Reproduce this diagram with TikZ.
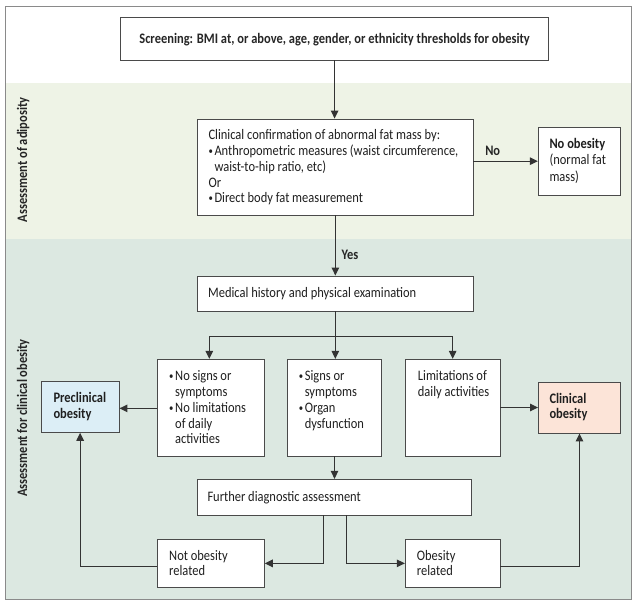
\documentclass[tikz,border=0pt]{standalone}
\usepackage{fontspec}
\setmainfont{Carlito}[FakeStretch=0.86]
\usepackage{graphicx}
\usetikzlibrary{arrows.meta,calc}
\definecolor{bandA}{HTML}{EEF3E6}
\definecolor{bandB}{HTML}{DCE8E1}
\definecolor{preF}{HTML}{DCEEF6}
\definecolor{clinF}{HTML}{FCE4D8}
\definecolor{lineC}{HTML}{333333}
\definecolor{boxC}{HTML}{4A4A4A}
\definecolor{frameC}{HTML}{8A8A8A}
\newcommand\fs{\fontsize{14.5}{15.8}\selectfont}
\newcommand\bl{\makebox[6pt][l]{\raisebox{1pt}{\scalebox{0.7}{\textbullet}}}}
\newcommand\hg{\hspace*{6pt}}
\tikzset{
  boxs/.style={draw=boxC, line width=0.9pt, fill=white, inner sep=0pt},
  txt/.style={inner sep=0pt, anchor=base west, font=\fs, text=black!88},
  lbl/.style={inner sep=0pt, font=\fs\bfseries, text=black!85},
  arr/.style={draw=lineC, line width=1.1pt, -{Triangle[length=8pt,width=7.5pt]}},
  ln/.style={draw=lineC, line width=1.1pt}
}
\begin{document}
\begin{tikzpicture}[x=1pt,y=-1pt]
\useasboundingbox (0,0) rectangle (636,606);
\fill[white] (0,0) rectangle (636,606);
\fill[bandA] (5,83) rectangle (631,239);
\fill[bandB] (5,239) rectangle (631,599.5);
\draw[frameC, line width=0.9pt] (5,6.5) rectangle (631,599.5);

% vertical labels
\node[lbl, rotate=90] (labA) at (23.3,160) {Assessment of adiposity};
\node[lbl, rotate=90] (labB) at (23.3,418) {Assessment for clinical obesity};

% boxes
\node[boxs, minimum width=427.8pt, minimum height=42.7pt] (scr) at (334.6,38.65) {};
\node[boxs, minimum width=275.3pt, minimum height=96pt] (conf) at (335.35,167) {};
\node[boxs, minimum width=81.7pt, minimum height=67.7pt] (noob) at (579.15,161.15) {};
\node[boxs, minimum width=275.3pt, minimum height=35pt] (med) at (335.35,293.5) {};
\node[boxs, minimum width=106.6pt, minimum height=96.7pt] (boxA) at (211,407.65) {};
\node[boxs, minimum width=94.4pt, minimum height=96.7pt] (boxB) at (334.5,407.65) {};
\node[boxs, minimum width=94.7pt, minimum height=96.7pt] (boxCc) at (452.65,407.65) {};
\node[boxs, fill=preF, minimum width=77.7pt, minimum height=51.3pt] (pre) at (80.15,406.65) {};
\node[boxs, fill=clinF, minimum width=82pt, minimum height=51pt] (clin) at (579.5,407.5) {};
\node[boxs, minimum width=274.7pt, minimum height=35.7pt] (fur) at (334.35,497.15) {};
\node[boxs, minimum width=106.6pt, minimum height=48.7pt] (nor) at (211,563.35) {};
\node[boxs, minimum width=94.7pt, minimum height=48.7pt] (obr) at (452.65,563.35) {};

% texts
\node[lbl, anchor=base] (tscr) at (334.6,43) {Screening: BMI at, or above, age, gender, or ethnicity thresholds for obesity};
\node[txt] (tconf) at (208.3,139.6) {\parbox[t]{262pt}{\fs Clinical confirmation of abnormal fat mass by:\\
\bl Anthropometric measures (waist circumference,\\
\hg waist-to-hip ratio, etc)\\
Or\\
\bl Direct body fat measurement}};
\node[txt] (tnoob) at (549.3,148) {\parbox[t]{70pt}{\fontsize{14.5}{16.6}\selectfont\textbf{No obesity}\\(normal fat\\mass)}};
\node[txt] (tmed) at (208,297.7) {Medical history and physical examination};
\node[txt] (tA) at (169,380.7) {\parbox[t]{95pt}{\fs \bl No signs or\\
\hg symptoms\\
\bl No limitations\\
\hg of daily\\
\hg activities}};
\node[txt] (tB) at (298.6,380.7) {\parbox[t]{84pt}{\fs \bl Signs or\\
\hg symptoms\\
\bl Organ\\
\hg dysfunction}};
\node[txt] (tC) at (417.7,380.7) {\parbox[t]{84pt}{\fs Limitations of\\daily activities}};
\node[txt, font=\fs\bfseries] (tpre) at (53.3,402.3) {\parbox[t]{64pt}{\fs\bfseries Preclinical\\obesity}};
\node[txt, font=\fs\bfseries] (tclin) at (549.3,403) {\parbox[t]{64pt}{\fs\bfseries Clinical\\obesity}};
\node[txt] (tfur) at (207.3,501.3) {Further diagnostic assessment};
\node[txt] (tnor) at (169,560.7) {\parbox[t]{90pt}{\fontsize{14.5}{15}\selectfont Not obesity\\related}};
\node[txt] (tobr) at (416.7,560.7) {\parbox[t]{80pt}{\fontsize{14.5}{15}\selectfont Obesity\\related}};
\node[lbl] (lno) at (492.7,150.7) {No};
\node[lbl] (lyes) at (350,255) {Yes};

% connectors
\draw[arr] (scr.south) -- (scr.south |- conf.north);
\draw[arr] (conf.east |- noob.west) -- (noob.west);
\draw[arr] (conf.south) -- (med.north);
\coordinate (br) at ($(med.south)+(0,24.7)$);
\draw[ln] (med.south) -- (br);
\draw[arr] (br) -| ([xshift=-1.7pt]boxA.north);
\draw[arr] (br) -| (boxCc.north);
\draw[arr] (br) -- (br |- boxB.north);
\draw[arr] ([yshift=-0.7pt]boxA.west) -- ([yshift=-0.7pt]boxA.west -| pre.east);
\draw[arr] (boxCc.east |- clin.west) -- (clin.west);
\draw[arr] (boxB.south) -- (boxB.south |- fur.north);
\draw[arr] ([xshift=-11pt]fur.south) |- (nor.east);
\draw[arr] ([xshift=12.3pt]fur.south) |- (obr.west);
\draw[arr] ([yshift=-3.3pt]nor.west) -| (pre.south);
\draw[arr] ([yshift=-3.3pt]obr.east) -| (clin.south);
\end{tikzpicture}
\end{document}
